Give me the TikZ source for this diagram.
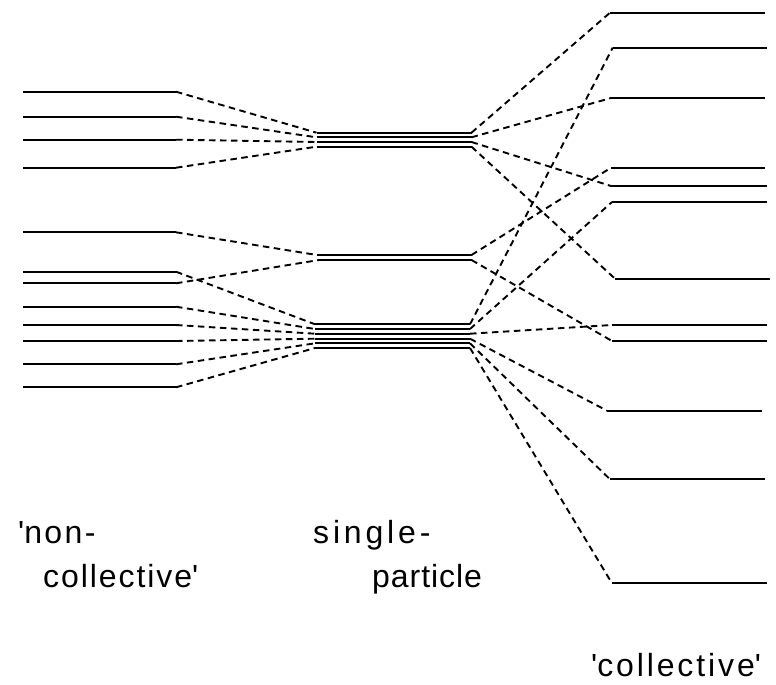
\documentclass[tikz,border=0pt]{standalone}
\usepackage{fontspec}
\setmainfont{Liberation Sans}
\begin{document}
\begin{tikzpicture}[x=1pt,y=-1pt,
  level/.style={line width=2.2pt},
  mlevel/.style={line width=1.8pt},
  conn/.style={line width=1.9pt, dash pattern=on 6.5pt off 4.5pt},
  lbl/.style={inner sep=0pt, anchor=base west, font=\fontsize{32}{38}\selectfont}]
\useasboundingbox (0,0) rectangle (776,685);
% left levels
\foreach \n/\y in {1/91.7,2/116.7,3/139.7,4/167.7,5/232.3,6/271.7,7/283.3,8/306.7,9/325,10/341,11/364.3,12/387.3}{
  \coordinate (La\n) at (23,\y);
  \coordinate (Lb\n) at (176,\y);
  \draw[level] (La\n) -- (Lb\n);
}
% middle levels
\foreach \n/\y/\xa/\xb in {1/132.7/316.5/471.5,2/137.3/316.5/471.5,3/142/316.5/471.5,4/146.7/316.5/471.5,
  5/255/317/471.5,6/260/319/471.5,
  7/324.3/315/470,8/329/315/470,9/333.7/315/470,10/338.7/315/470,11/343.3/315/470,12/348/315/470}{
  \coordinate (Ma\n) at (\xa,\y);
  \coordinate (Mb\n) at (\xb,\y);
  \draw[mlevel] (Ma\n) -- (Mb\n);
}
% right levels
\foreach \n/\y/\xa/\xb in {1/12.7/610/765,2/47.7/612.7/766.7,3/98.3/610/765,4/167.7/611/765,
  5/186/611/767,6/202/612/767,7/278.7/615/770,8/325/612/767,9/341/612/767,
  10/410.7/607/762,11/479.3/610/765,12/583.3/612/767}{
  \coordinate (Ra\n) at (\xa,\y);
  \coordinate (Rb\n) at (\xb,\y);
  \draw[level] (Ra\n) -- (Rb\n);
}
% left -> middle
\foreach \a/\b in {1/1,2/2,3/3,4/4,5/5,7/6,6/7,8/8,9/9,10/10,11/11,12/12}{
  \draw[conn] (Lb\a) -- (Ma\b);
}
% middle -> right
\foreach \a/\b in {1/1,2/3,3/5,4/7,5/4,6/9,7/2,8/6,9/8,10/10,11/11,12/12}{
  \draw[conn] (Mb\a) -- (Ra\b);
}
% labels
\node[lbl] (t1) at (18,543) {\addfontfeature{LetterSpace=7.5}\textquotesingle non-};
\node[lbl] (t2) at (43,587) {\addfontfeature{LetterSpace=6}collective\textquotesingle};
\node[lbl] (t3) at (313,543) {\addfontfeature{LetterSpace=12}single-};
\node[lbl] (t4) at (372,587) {\addfontfeature{LetterSpace=3}particle};
\node[lbl] (t5) at (591,676) {\addfontfeature{LetterSpace=9}\textquotesingle collective\textquotesingle};
\end{tikzpicture}
\end{document}
